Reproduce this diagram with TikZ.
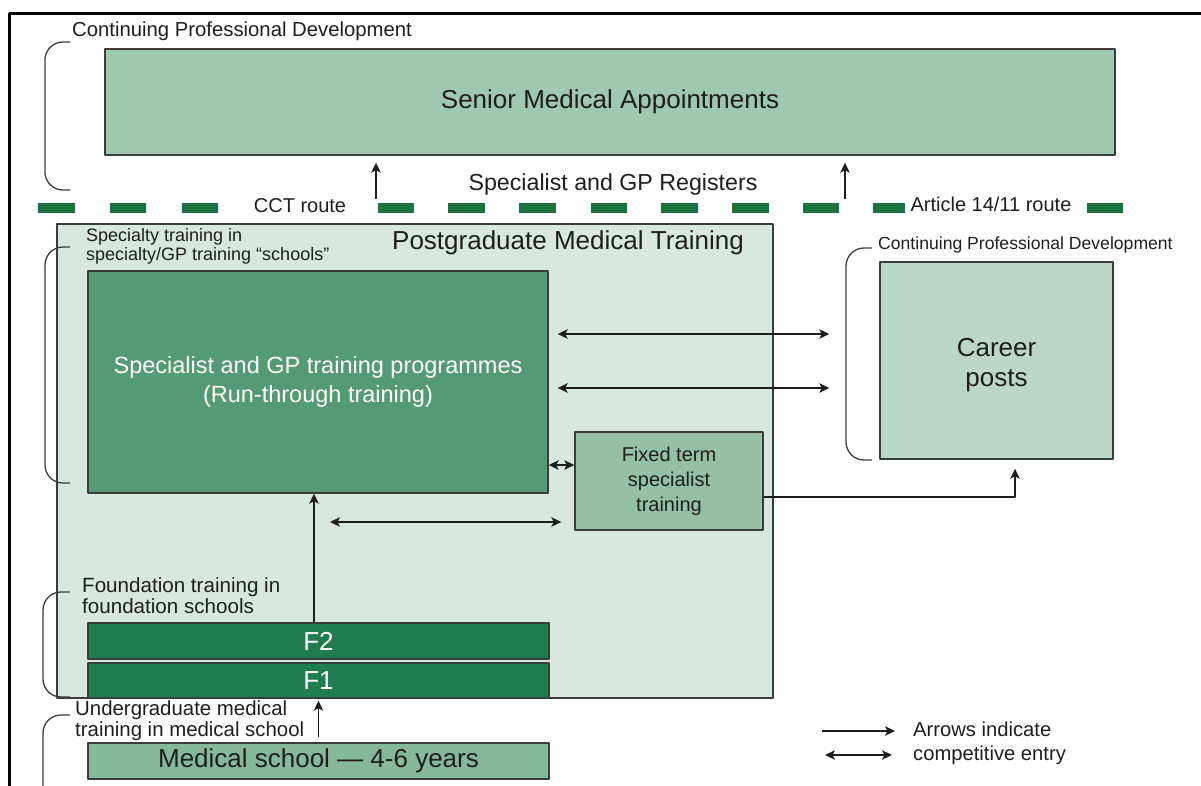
\documentclass[tikz,border=0pt]{standalone}
\usepackage{fontspec}
\setmainfont{Liberation Sans}
\usetikzlibrary{arrows.meta}

\definecolor{seniorfill}{HTML}{A0C7B0}
\definecolor{pgtfill}{HTML}{D9E8DF}
\definecolor{progfill}{HTML}{549B75}
\definecolor{fixedfill}{HTML}{96C0A6}
\definecolor{careerfill}{HTML}{BBD8C7}
\definecolor{fyfill}{HTML}{1F7D50}
\definecolor{medfill}{HTML}{86B89B}
\definecolor{routegreen}{HTML}{1B7340}
\definecolor{edge}{HTML}{3C3C3C}
\definecolor{ink}{HTML}{1E1E1E}

\begin{document}
\begin{tikzpicture}[x=1pt,y=-1pt,line join=round,>={Stealth[length=10pt,width=9.5pt,inset=2.5pt]},
	box/.style={draw=edge,line width=1.4pt,inner sep=0pt,align=center,text=ink},
	wbox/.style={box,text=white},
	lbl/.style={inner sep=0pt,text=ink,align=left},
	link/.style={draw=ink,line width=1.4pt},
	brk/.style={draw=edge,line width=1.3pt,rounded corners=18pt},
	routedash/.style={draw=routegreen,line width=10pt}]
	\useasboundingbox (0,0) rectangle (1201,785);
	\clip (0,0) rectangle (1201,785);
	% outer frame (only the top and left edges show)
	\draw[line width=3pt] (9,800) -- (9,13) -- (1215,13);

	% boxes
	\node[box,fill=seniorfill,minimum width=1010pt,minimum height=106pt,font={\fontsize{26}{30}\selectfont}] (senior) at (610,102) {Senior Medical Appointments};
	\node[box,fill=pgtfill,minimum width=716pt,minimum height=474pt] (pgt) at (415,461) {};
	\node[wbox,fill=progfill,minimum width=460pt,minimum height=222pt,font={\fontsize{23.5}{29}\selectfont}] (prog) at (318,382) {Specialist and GP training programmes\\(Run-through training)};
	\node[box,fill=fixedfill,minimum width=188pt,minimum height=98pt,font={\fontsize{20}{25}\selectfont}] (fixed) at (669,481) {Fixed term\\specialist\\training};
	\node[box,fill=careerfill,minimum width=233pt,minimum height=197pt,
		label={[lbl,align=center,yshift=-5pt,font={\fontsize{26}{30}\selectfont}]center:Career\\posts}] (career) at (996.5,360.5) {};
	\node[wbox,fill=fyfill,minimum width=461pt,minimum height=36pt,font={\fontsize{26}{30}\selectfont}] (ftwo) at (318.5,641) {F2};
	\node[wbox,fill=fyfill,minimum width=461pt,minimum height=35pt,font={\fontsize{26}{30}\selectfont}] (fone) at (318.5,680.5) {F1};
	\node[box,fill=medfill,minimum width=461pt,minimum height=36pt,font={\fontsize{26}{30}\selectfont}] (med) at (318.5,761) {Medical school --- 4-6 years};

	% route line
	\foreach \s/\e in {38/75,110/146,182/218,378/414,448/485,519/556,591/627,661/698,732/769,803/839,873/905,1087/1123}
		\draw[routedash] (\s,208) -- (\e,208);

	% labels
	\node[lbl,anchor=west,font={\fontsize{20.3}{22}\selectfont}] (cpdtop) at (72,31) {Continuing Professional Development};
	\node[lbl,font={\fontsize{23.2}{25}\selectfont}] (reg) at (613,184) {Specialist and GP Registers};
	\node[lbl,font={\fontsize{20}{22}\selectfont}] (cct) at (300,206) {CCT route};
	\node[lbl,font={\fontsize{20}{22}\selectfont}] (art) at (991,204) {Article 14/11 route};
	\node[lbl,font={\fontsize{26}{30}\selectfont}] (pgtname) at (568,243) {Postgraduate Medical Training};
	\node[lbl,anchor=north west,font={\fontsize{18}{19}\selectfont}] (spec) at (86,228) {Specialty training in\\specialty/GP training ``schools''};
	\node[lbl,anchor=west,font={\fontsize{17.6}{19}\selectfont}] (cpdright) at (878,245) {Continuing Professional Development};
	\node[lbl,anchor=north west,font={\fontsize{20.6}{21}\selectfont}] (found) at (82,577) {Foundation training in\\foundation schools};
	\node[lbl,anchor=north west,font={\fontsize{20.4}{17}\selectfont}] (ugrad) at (75,701) {Undergraduate medical\\training in medical school};
	\node[lbl,anchor=west,font={\fontsize{20.2}{24}\selectfont}] (key) at (913,743) {Arrows indicate\\competitive entry};

	% brackets
	\draw[brk] (70,42) -- (45,42) -- (45,190) -- (70,190);
	\draw[brk] (70,247) -- (45,247) -- (45,483) -- (70,483);
	\draw[brk] (872,248) -- (846,248) -- (846,460) -- (872,460);
	\draw[brk] (70,592) -- (43,592) -- (43,697) -- (70,697);
	\draw[brk] (70,715) -- (43,715) -- (43,800);

	% arrows
	\coordinate (cctup) at (376,199);
	\coordinate (artup) at (845,199);
	\draw[link,->,shorten >=7pt] (cctup) -- (cctup |- senior.south);
	\draw[link,->,shorten >=7pt] (artup) -- (artup |- senior.south);
	\draw[link,<->,shorten <=9pt,shorten >=50pt] ([yshift=48pt]prog.east) -- ([yshift=48pt]prog.east -| career.west);
	\draw[link,<->,shorten <=9pt,shorten >=50pt] ([yshift=-6pt]prog.east) -- ([yshift=-6pt]prog.east -| career.west);
	\draw[link,<->] ([yshift=16pt]fixed.west -| prog.east) -- ([yshift=16pt]fixed.west);
	\coordinate (ftin) at (330,522);
	\draw[link,<->,shorten >=13pt] (ftin) -- (ftin -| fixed.west);
	\draw[link,->] ([xshift=-4.5pt]ftwo.north) -- ([xshift=-4.5pt]ftwo.north |- prog.south);
	\draw[link,->,shorten <=5pt,shorten >=2pt] (med.north) -- (fone.south);
	\draw[link,->,shorten >=9pt] ([yshift=-16pt]fixed.east) -| ([xshift=18.5pt]career.south);

	% key
	\coordinate (keya) at (822,731);
	\coordinate (keyb) at (895,731);
	\coordinate (keyc) at (825,755);
	\coordinate (keyd) at (892,755);
	\draw[link,->] (keya) -- (keyb);
	\draw[link,<->] (keyc) -- (keyd);
\end{tikzpicture}
\end{document}
